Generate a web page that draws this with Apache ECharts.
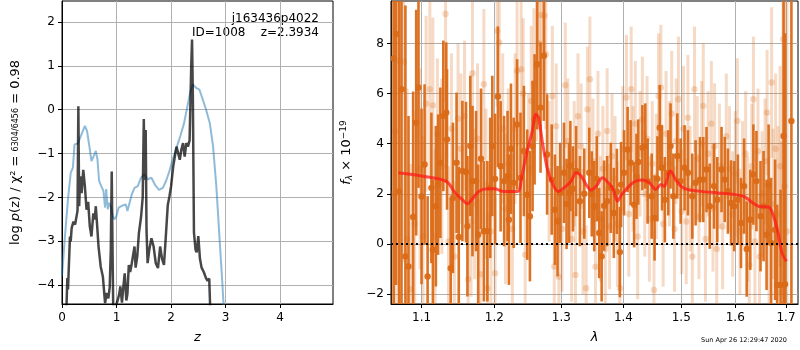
<!DOCTYPE html>
<html>
<head>
<meta charset="utf-8">
<script src="https://cdn.jsdelivr.net/npm/echarts@6/dist/echarts.min.js"></script>
<style>
  html, body { margin: 0; padding: 0; background: #fff; }
  #chart { width: 800px; height: 350px; }
</style>
</head>
<body>
<div id="chart"></div>
<script>
// left panel: log p(z) and chi2 curve
const pzZ = [0.08, 0.098, 0.11, 0.146, 0.16, 0.177, 0.21, 0.24, 0.27, 0.285, 0.30, 0.315, 0.325, 0.343, 0.36, 0.39, 0.42, 0.45, 0.48, 0.51, 0.54, 0.575, 0.60, 0.62, 0.645, 0.67, 0.71, 0.75, 0.79, 0.82, 0.85, 0.875, 0.895, 0.912, 0.925, 0.94, 0.98, 1.02, 1.05, 1.07, 1.10, 1.12, 1.15, 1.18, 1.20, 1.225, 1.25, 1.28, 1.33, 1.35, 1.38, 1.41, 1.45, 1.48, 1.50, 1.52, 1.535, 1.55, 1.57, 1.60, 1.64, 1.68, 1.72, 1.76, 1.80, 1.835, 1.87, 1.90, 1.94, 1.97, 2.00, 2.04, 2.07, 2.10, 2.13, 2.16, 2.19, 2.22, 2.25, 2.28, 2.31, 2.34, 2.37, 2.385, 2.40, 2.42, 2.45, 2.47, 2.50, 2.53, 2.56, 2.60, 2.64, 2.67, 2.70, 2.72];
const pzLog = [-4.6, -3.84, -4.1, -2.89, -3.0, -2.70, -2.55, -2.62, -2.62, -2.3, 0.08, -2.2, -1.83, -1.52, -1.9, -1.37, -1.75, -2.28, -2.1, -2.66, -2.89, -2.36, -2.5, -2.2, -2.65, -3.12, -3.58, -3.81, -4.41, -4.18, -4.3, -4.05, -3.2, -1.41, -3.0, -4.6, -4.5, -4.35, -4.2, -4.03, -4.4, -4.1, -3.73, -4.35, -4.2, -3.54, -3.7, -3.5, -3.12, -3.6, -3.35, -2.82, -2.44, -2.0, -0.21, -1.6, -0.46, -2.74, -3.5, -3.2, -2.93, -3.12, -3.5, -3.61, -3.12, -3.4, -3.54, -2.97, -2.17, -1.98, -1.75, -1.29, -1.26, -0.84, -0.99, -1.14, -0.9, -0.76, -1.07, -0.76, -0.84, -0.7, 1.0, 1.6, 0.3, -2.8, -3.2, -3.25, -2.88, -3.4, -3.6, -3.7, -3.84, -3.9, -3.85, -4.6];

const chiZ = [0.0, 0.05, 0.11, 0.16, 0.2, 0.23, 0.29, 0.37, 0.42, 0.46, 0.51, 0.54, 0.58, 0.62, 0.65, 0.68, 0.72, 0.76, 0.79, 0.81, 0.84, 0.87, 0.9, 0.93, 0.96, 1.0, 1.04, 1.1, 1.17, 1.2, 1.23, 1.28, 1.33, 1.39, 1.45, 1.51, 1.57, 1.64, 1.7, 1.78, 1.85, 1.91, 1.97, 2.03, 2.1, 2.17, 2.24, 2.3, 2.35, 2.4, 2.46, 2.52, 2.58, 2.64, 2.71, 2.77, 2.83, 2.89, 2.94, 2.97];
const chiLog = [-3.79, -2.95, -2.04, -1.44, -1.32, -0.79, -0.77, -0.52, -0.37, -0.49, -0.9, -1.17, -1.06, -0.94, -1.13, -1.62, -1.74, -1.85, -2.23, -1.81, -2.27, -2.12, -2.23, -2.42, -2.5, -2.42, -2.23, -2.19, -2.16, -2.31, -2.35, -1.93, -1.78, -1.74, -1.55, -1.47, -1.59, -1.55, -1.7, -1.83, -1.78, -1.62, -1.4, -1.13, -0.87, -0.6, -0.3, 0.08, 0.39, 0.58, 0.5, 0.46, 0.24, 0.01, -0.3, -0.83, -1.74, -2.95, -3.94, -4.6];

const zTicks = [0, 1, 2, 3, 4];
const logTicks = [-4, -3, -2, -1, 0, 1, 2];

// right panel: spectrum
const specWave = [1.064, 1.067, 1.071, 1.074, 1.079, 1.083, 1.089, 1.093, 1.096, 1.100, 1.104, 1.108, 1.113, 1.115, 1.119, 1.122, 1.125, 1.129, 1.133, 1.134, 1.139, 1.142, 1.147, 1.150, 1.155, 1.160, 1.162, 1.166, 1.169, 1.174, 1.177, 1.181, 1.185, 1.190, 1.194, 1.197, 1.201, 1.205, 1.209, 1.214, 1.219, 1.221, 1.224, 1.228, 1.233, 1.238, 1.243, 1.248, 1.252, 1.256, 1.259, 1.263, 1.268, 1.273, 1.278, 1.285, 1.290, 1.294, 1.298, 1.304, 1.308, 1.312, 1.314, 1.318, 1.323, 1.329, 1.336, 1.344, 1.348, 1.352, 1.356, 1.360, 1.364, 1.368, 1.373, 1.379, 1.384, 1.389, 1.394, 1.396, 1.401, 1.407, 1.412, 1.418, 1.422, 1.425, 1.432, 1.437, 1.441, 1.448, 1.453, 1.458, 1.462, 1.466, 1.471, 1.477, 1.481, 1.486, 1.493, 1.499, 1.506, 1.512, 1.520, 1.526, 1.534, 1.540, 1.546, 1.552, 1.560, 1.566, 1.574, 1.580, 1.586, 1.592, 1.598, 1.605, 1.611, 1.617, 1.622, 1.629, 1.635, 1.641, 1.649, 1.655, 1.661, 1.665, 1.670, 1.678, 1.682, 1.689, 1.695, 1.698, 1.711];
const specFlux = [7.40, 8.37, 2.10, 6.17, -0.49, -0.89, 1.08, 4.84, 6.24, 1.90, 3.17, -1.29, 2.24, -0.23, 1.51, 2.37, 3.24, 5.11, 5.24, 4.17, -0.96, 1.84, 3.24, 0.28, 2.91, 2.87, 0.71, 3.91, 2.51, 2.51, 0.37, 3.40, 0.51, 0.51, 2.24, 3.91, 2.60, 5.88, 3.10, 2.51, 2.71, 0.97, 3.80, 2.44, 4.77, 2.64, 3.71, 1.97, 1.11, 3.91, 4.97, 7.17, 5.44, 7.51, 3.57, 2.57, 1.37, 0.91, 2.04, 2.84, 1.60, 2.04, 3.11, 2.20, 2.91, 1.71, 2.01, 2.84, 2.00, 1.51, 2.60, 0.44, -0.49, 1.53, 1.71, 2.24, 1.24, 2.10, -0.32, 2.37, 2.84, 3.77, 3.24, 1.57, 2.70, 3.27, 3.84, 3.91, 2.51, 1.91, 1.04, 2.60, 4.64, 3.04, 1.77, 2.84, 3.91, 1.91, 3.51, 2.51, 3.04, 2.84, 1.91, 2.44, 2.57, 2.57, 2.97, 1.51, 2.31, 1.77, 2.97, 2.57, 2.11, 1.64, 1.51, 1.77, 0.84, 2.31, -0.20, 0.97, 2.77, 2.51, 1.11, 1.51, 0.37, 2.37, 0.04, 0.57, -1.63, -1.63, 4.31, -1.60, 4.91];
const specErr = [10, 10, 10, 10, 10, 6, 5, 4.5, 4, 3.5, 3.2, 3.2, 3, 2.8, 3.2, 2.8, 3, 3, 2.8, 2.8, 2.8, 3, 2.8, 2.8, 2.8, 2.8, 2.8, 2.8, 3, 2.8, 2.8, 2.8, 2.8, 2.8, 2.8, 2.8, 2.6, 2.8, 2.6, 2.6, 2.6, 2.6, 2.6, 2.6, 2.6, 2.6, 2.6, 2.6, 2.6, 2.6, 2.6, 2.6, 2.6, 2.6, 2.4, 2.2, 2.2, 2.2, 2, 2, 1.8, 2, 1.8, 1.7, 1.8, 1.8, 1.8, 1.8, 1.7, 1.8, 1.7, 1.8, 1.8, 1.8, 1.8, 1.8, 1.8, 1.7, 1.8, 1.7, 1.7, 1.7, 1.7, 1.7, 1.7, 1.7, 1.7, 1.7, 1.7, 1.7, 1.7, 1.7, 1.7, 1.7, 1.7, 1.7, 1.7, 1.7, 1.7, 1.7, 1.7, 1.7, 1.7, 1.7, 1.7, 1.7, 1.7, 1.7, 1.7, 1.7, 1.7, 1.7, 1.7, 1.7, 1.8, 1.8, 1.8, 1.9, 1.9, 2, 2, 2, 2.2, 2.2, 2.2, 2.4, 2.6, 2.8, 3.2, 3.8, 10, 10, 10];

const faintWave = [1.062, 1.066, 1.070, 1.077, 1.081, 1.086, 1.091, 1.098, 1.102, 1.106, 1.111, 1.115, 1.118, 1.121, 1.127, 1.132, 1.136, 1.140, 1.144, 1.149, 1.153, 1.158, 1.163, 1.167, 1.169, 1.172, 1.176, 1.180, 1.185, 1.188, 1.190, 1.195, 1.201, 1.204, 1.207, 1.212, 1.216, 1.220, 1.226, 1.230, 1.233, 1.239, 1.242, 1.245, 1.250, 1.254, 1.258, 1.262, 1.266, 1.269, 1.274, 1.276, 1.281, 1.286, 1.289, 1.292, 1.296, 1.301, 1.306, 1.310, 1.316, 1.320, 1.322, 1.326, 1.331, 1.334, 1.339, 1.341, 1.345, 1.350, 1.354, 1.358, 1.362, 1.366, 1.370, 1.373, 1.377, 1.381, 1.386, 1.390, 1.394, 1.399, 1.405, 1.409, 1.413, 1.416, 1.420, 1.424, 1.428, 1.432, 1.436, 1.440, 1.444, 1.449, 1.452, 1.456, 1.460, 1.464, 1.468, 1.473, 1.479, 1.483, 1.488, 1.491, 1.495, 1.501, 1.504, 1.509, 1.512, 1.516, 1.520, 1.524, 1.529, 1.532, 1.537, 1.540, 1.544, 1.549, 1.555, 1.558, 1.561, 1.565, 1.570, 1.576, 1.583, 1.589, 1.595, 1.600, 1.604, 1.609, 1.614, 1.620, 1.624, 1.627, 1.632, 1.635, 1.638, 1.644, 1.647, 1.652, 1.658, 1.662, 1.666, 1.671, 1.674, 1.679, 1.684, 1.688, 1.691, 1.694, 1.697, 1.702];
const faintFlux = [2.0, 4.5, 7.3, 7.28, 0.2, -1.8, 0.8, 3.0, 0.3, 5.6, 6.17, 5.53, 0.3, 4.4, 3.1, 9.17, 0.1, 4.6, -0.5, 5.0, 3.8, 5.11, -1.4, 0.9, 6.81, 1.6, 4.2, -1.2, 6.37, 2.4, -1.76, 0.5, -1.16, 8.5, 8.04, 4.6, 1.4, 3.2, 0.6, 4.6, 6.91, 6.97, 6.0, -0.43, 3.0, 5.7, 6.4, 7.1, 8.0, 9.13, 9.1, 7.57, 2.9, 5.9, -0.89, 4.7, -1.3, 0.6, 6.33, 4.1, 0.2, 3.2, -1.23, 5.1, 3.9, 0.5, -1.76, 5.37, 6.57, 3.3, -0.9, 4.4, 1.0, 3.0, -0.2, 4.51, 0.7, 3.5, 2.6, 0.8, -1.76, 3.8, 5.84, 1.2, 6.17, 3.0, 4.8, 0.3, 3.6, 4.97, 2.0, 4.2, 1.0, 3.2, -1.83, 2.7, 5.9, 6.24, 0.8, 4.4, 3.2, 5.2, 0.6, 4.1, 5.77, 1.3, 4.6, 0.9, 5.04, 2.2, -0.5, 6.17, 3.4, 1.1, 4.0, 5.51, 0.2, 3.6, 4.8, 1.4, 3.91, -0.2, 3.1, 0.7, 4.3, 3.0, 1.2, 2.8, 4.91, 0.5, 2.4, 3.6, 1.0, -0.83, 3.1, 5.77, 0.1, 3.7, -0.5, 2.0, 3.3, 5.24, 0.5, 6.44, 1.6, 3.8, 1.2, 3.1, -1.9, 8.17, 2.3, 0.5];
const faintErr = [10, 10, 10, 8, 6, 5, 4.5, 4, 4, 3.5, 3.5, 3.5, 3.5, 3, 3.5, 3.5, 3, 3, 3, 3, 3, 3, 3, 3, 3, 3, 3, 3, 3, 3, 3, 3, 3, 3, 3, 3, 3, 3, 3, 3, 3, 3, 3, 3, 3, 3, 3, 3, 3, 3, 3, 3, 2.8, 2.8, 2.8, 2.5, 2.5, 2.5, 2.5, 2.5, 2.5, 2.5, 2.5, 2.5, 2.5, 2.5, 2.5, 2.5, 2.5, 2.5, 2.5, 2.5, 2.5, 2.5, 2.5, 2.5, 2.5, 2.5, 2.5, 2.5, 2.5, 2.5, 2.5, 2.5, 2.5, 2.5, 2.5, 2.5, 2.5, 2.5, 2.5, 2.5, 2.5, 2.5, 2.5, 2.5, 2.5, 2.5, 2.5, 2.5, 2.5, 2.5, 2.5, 2.5, 2.5, 2.5, 2.5, 2.5, 2.5, 2.5, 2.5, 2.5, 2.5, 2.5, 2.5, 2.5, 2.5, 2.5, 2.5, 2.5, 2.5, 2.5, 2.5, 2.5, 2.5, 2.5, 2.5, 2.5, 2.5, 2.5, 2.5, 2.5, 2.5, 2.5, 2.5, 2.5, 2.5, 2.5, 2.5, 2.5, 2.5, 2.5, 3, 3, 3, 3, 3.5, 4, 6, 6, 10, 10];

const modelWave = [1.07, 1.1, 1.133, 1.145, 1.155, 1.162, 1.168, 1.178, 1.19, 1.2, 1.213, 1.234, 1.24, 1.248, 1.255, 1.261, 1.265, 1.271, 1.278, 1.287, 1.295, 1.304, 1.315, 1.323, 1.331, 1.339, 1.347, 1.356, 1.365, 1.375, 1.383, 1.39, 1.397, 1.412, 1.42, 1.432, 1.444, 1.455, 1.464, 1.47, 1.478, 1.481, 1.49, 1.5, 1.512, 1.536, 1.567, 1.6, 1.618, 1.634, 1.646, 1.665, 1.675, 1.684, 1.692, 1.701];
const modelFlux = [2.84, 2.71, 2.5, 2.04, 1.77, 1.61, 1.77, 2.1, 2.2, 2.2, 2.1, 2.1, 2.71, 3.71, 4.44, 5.17, 5.04, 4.04, 3.04, 2.37, 2.1, 2.24, 2.5, 2.84, 2.71, 2.37, 2.15, 2.33, 2.64, 2.44, 2.17, 1.71, 1.97, 2.37, 2.5, 2.55, 2.44, 2.17, 2.37, 2.3, 2.84, 2.91, 2.57, 2.3, 2.17, 2.1, 2.04, 1.97, 1.88, 1.64, 1.5, 1.48, 1.11, 0.44, -0.36, -0.69];

const waveTicks = [1.1, 1.2, 1.3, 1.4, 1.5, 1.6, 1.7];
const fluxTicks = [-2, 0, 2, 4, 6, 8];

const font = 'DejaVu Sans';
const orange = '#da6a17';
const minus = v => String(v).replace('-', '\u2212');

function zip(a, b) { return a.map((v, i) => [v, b[i]]); }
function errData(w, f, e) { return w.map((v, i) => [Math.log10(v), f[i], e[i]]); }

function errBars(opacity, width) {
    return function (params, api) {
        const x = api.value(0), y = api.value(1), e = api.value(2);
        const top = api.coord([x, y + e]);
        const bot = api.coord([x, y - e]);
        const c = api.coord([x, y]);
        return {
            type: 'group',
            children: [
                { type: 'line', shape: { x1: top[0], y1: top[1], x2: bot[0], y2: bot[1] },
                  style: { stroke: orange, lineWidth: width, opacity: opacity } },
                { type: 'circle', shape: { cx: c[0], cy: c[1], r: 3.2 },
                  style: { fill: orange, opacity: opacity } }
            ]
        };
    };
}

const axisCommon = {
    axisLine: { show: true, onZero: false, lineStyle: { color: '#000', width: 1 } },
    axisTick: { show: true, length: 4, lineStyle: { color: '#000', width: 1 } },
    splitLine: { show: true, lineStyle: { color: '#b0b0b0', width: 1 } },
    nameTextStyle: { fontFamily: font, fontSize: 13, color: '#000' }
};
const labelStyle = { fontFamily: font, fontSize: 12, color: '#000' };

const chart = echarts.init(document.getElementById('chart'));
chart.setOption({
    animation: false,
    backgroundColor: '#fff',
    grid: [
        { left: 62, top: 1, width: 271, height: 303, show: true, borderColor: '#000', borderWidth: 1, backgroundColor: 'transparent' },
        { left: 391, top: 1, width: 407, height: 303, show: true, borderColor: '#000', borderWidth: 1, backgroundColor: 'transparent' }
    ],
    xAxis: [
        Object.assign({}, axisCommon, {
            type: 'value', gridIndex: 0, min: 0, max: 4.97,
            axisTick: Object.assign({}, axisCommon.axisTick, { customValues: zTicks }),
            axisLabel: Object.assign({}, labelStyle, { customValues: zTicks, margin: 8 }),
            name: 'z', nameLocation: 'middle', nameGap: 27,
            nameTextStyle: Object.assign({}, axisCommon.nameTextStyle, { fontStyle: 'italic' })
        }),
        Object.assign({}, axisCommon, {
            type: 'value', gridIndex: 1, min: Math.log10(1.0606), max: Math.log10(1.7245),
            axisTick: Object.assign({}, axisCommon.axisTick, { customValues: waveTicks.map(v => Math.log10(v)) }),
            axisLabel: Object.assign({}, labelStyle, {
                customValues: waveTicks.map(v => Math.log10(v)), margin: 8,
                formatter: v => Math.pow(10, v).toFixed(1)
            }),
            name: 'λ', nameLocation: 'middle', nameGap: 27,
            nameTextStyle: Object.assign({}, axisCommon.nameTextStyle, { fontStyle: 'italic' })
        })
    ],
    yAxis: [
        Object.assign({}, axisCommon, {
            type: 'value', gridIndex: 0, min: -4.43, max: 2.48,
            axisTick: Object.assign({}, axisCommon.axisTick, { customValues: logTicks }),
            axisLabel: Object.assign({}, labelStyle, { customValues: logTicks, margin: 7, formatter: minus }),
            name: 'log {i|p}(z) / χ² = {s|6304/6456} = 0.98',
            nameLocation: 'middle', nameRotate: 90, nameGap: 40,
            nameTextStyle: Object.assign({}, axisCommon.nameTextStyle, {
                rich: {
                    i: { fontFamily: font, fontSize: 13, fontStyle: 'italic', color: '#000' },
                    s: { fontFamily: font, fontSize: 8, color: '#000' }
                }
            })
        }),
        Object.assign({}, axisCommon, {
            type: 'value', gridIndex: 1, min: -2.39, max: 9.69,
            axisTick: Object.assign({}, axisCommon.axisTick, { customValues: fluxTicks }),
            axisLabel: Object.assign({}, labelStyle, { customValues: fluxTicks, margin: 7, formatter: minus }),
            name: '{i|f}{sub|λ} × 10{sup|−19}',
            nameLocation: 'middle', nameRotate: 90, nameGap: 37,
            nameTextStyle: Object.assign({}, axisCommon.nameTextStyle, {
                rich: {
                    i: { fontFamily: font, fontSize: 13, fontStyle: 'italic', color: '#000' },
                    sub: { fontFamily: font, fontSize: 9, fontStyle: 'italic', color: '#000', padding: [6, 0, 0, 0] },
                    sup: { fontFamily: font, fontSize: 9, color: '#000', padding: [0, 0, 6, 0] }
                }
            })
        })
    ],
    graphic: [
        { type: 'text', x: 319, y: 13, style: { text: 'j163436p4022', font: '12px "DejaVu Sans"', fill: '#000', align: 'right' } },
        { type: 'text', x: 319, y: 27, style: { text: 'ID=1008    z=2.3934', font: '12px "DejaVu Sans"', fill: '#000', align: 'right' } },
        { type: 'text', x: 787, y: 337, style: { text: 'Sun Apr 26 12:29:47 2020', font: '6.5px "DejaVu Sans"', fill: '#000', align: 'right' } }
    ],
    series: [
        {
            type: 'line', xAxisIndex: 0, yAxisIndex: 0, data: zip(chiZ, chiLog),
            showSymbol: false, clip: true,
            lineStyle: { color: '#1f77b4', opacity: 0.5, width: 2 }
        },
        {
            type: 'line', xAxisIndex: 0, yAxisIndex: 0, data: zip(pzZ, pzLog),
            showSymbol: false, clip: true,
            lineStyle: { color: '#000', opacity: 0.72, width: 2.5 }
        },
        {
            type: 'custom', xAxisIndex: 1, yAxisIndex: 1, clip: true,
            data: errData(faintWave, faintFlux, faintErr),
            renderItem: errBars(0.25, 3)
        },
        {
            type: 'custom', xAxisIndex: 1, yAxisIndex: 1, clip: true,
            data: errData(specWave, specFlux, specErr),
            renderItem: errBars(0.95, 2.6)
        },
        {
            type: 'line', xAxisIndex: 1, yAxisIndex: 1,
            data: zip(modelWave.map(v => Math.log10(v)), modelFlux),
            showSymbol: false, smooth: 0.3, clip: true,
            lineStyle: { color: '#ff1a1a', opacity: 0.75, width: 3 },
            markLine: {
                silent: true, symbol: 'none', label: { show: false },
                lineStyle: { color: '#000', type: [2, 3], width: 1.8, opacity: 1 },
                data: [{ yAxis: 0 }]
            }
        }
    ]
});
</script>
</body>
</html>
